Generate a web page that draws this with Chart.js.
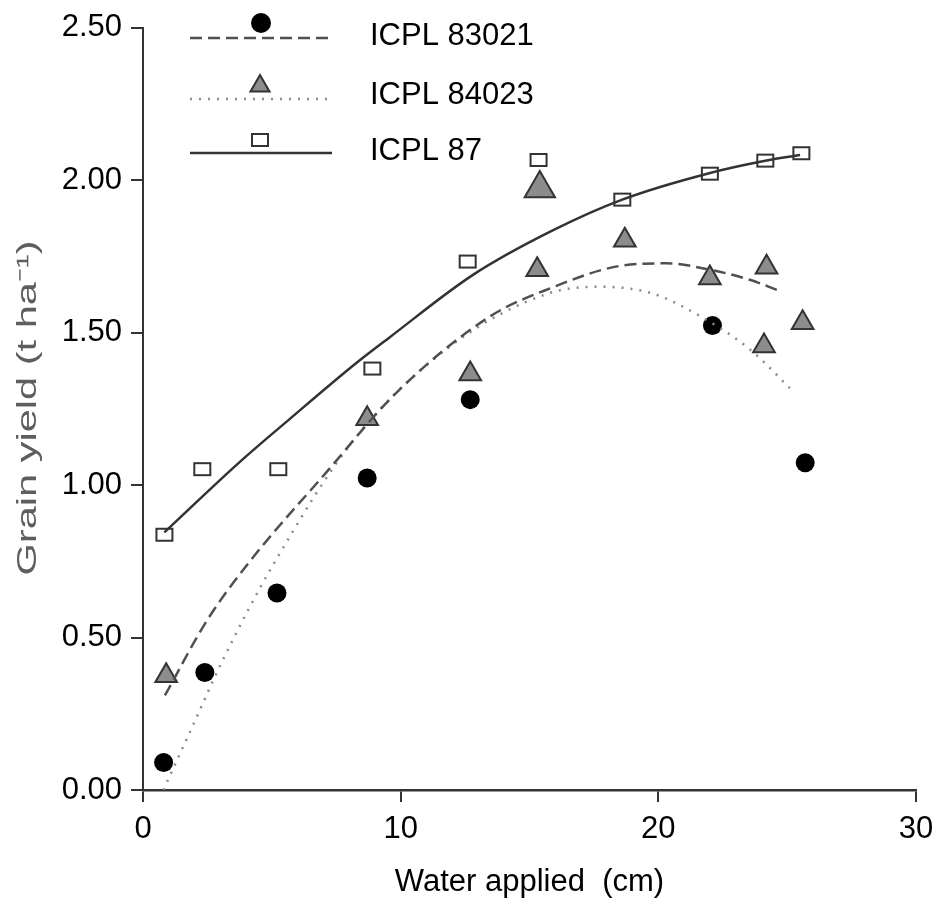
<!DOCTYPE html>
<html>
<head>
<meta charset="utf-8">
<script src="https://cdn.jsdelivr.net/npm/chart.js@4.4.1/dist/chart.umd.min.js"></script>
<style>
  body { margin: 0; background: #fff; }
  canvas { display: block; }
</style>
</head>
<body>
<canvas id="myChart" width="938" height="901"></canvas>
<script>
// observed points (water applied, cm / grain yield, t/ha)
var water83021 = [0.8, 2.4, 5.2, 8.7, 12.7, 22.1, 25.7];
var yield83021 = [0.09, 0.385, 0.646, 1.023, 1.28, 1.523, 1.073];
var water84023 = [0.9, 8.7, 12.7, 15.3, 15.4, 18.7, 22.0, 24.1, 24.2, 25.6];
var yield84023 = [0.375, 1.217, 1.364, 1.706, 1.972, 1.803, 1.679, 1.456, 1.714, 1.532];
var water87 = [0.83, 2.3, 5.25, 8.9, 12.6, 15.35, 18.6, 22.0, 24.15, 25.55];
var yield87 = [0.837, 1.052, 1.052, 1.382, 1.733, 2.066, 1.936, 2.021, 2.064, 2.088];

// fitted curves
var fitX83021 = [0.85, 2.47, 4.15, 7.13, 9.8, 13.47, 15.8, 18.4, 20.3, 22.0, 23.55, 24.6];
var fitY83021 = [0.31, 0.554, 0.75, 1.043, 1.3, 1.553, 1.645, 1.717, 1.727, 1.706, 1.673, 1.64];
var fitX84023 = [0.79, 1.82, 3.12, 5.06, 8.2, 12.0, 15.8, 17.7, 19.7, 21.6, 23.55, 25.2];
var fitY84023 = [0.0, 0.19, 0.43, 0.74, 1.15, 1.46, 1.63, 1.65, 1.63, 1.555, 1.445, 1.31];
var fitX87 = [0.83, 3.76, 5.7, 8.29, 9.58, 12.82, 15.9, 18.6, 21.9, 24.2, 25.5];
var fitY87 = [0.845, 1.076, 1.217, 1.401, 1.485, 1.69, 1.835, 1.936, 2.021, 2.064, 2.082];

var xTicks = [0, 10, 20, 30];
var yTicks = [0, 0.5, 1.0, 1.5, 2.0, 2.5];
var seriesNames = ["ICPL 83021", "ICPL 84023", "ICPL 87"];

var bigTriangle = 4; // drawn larger in the original

function pairs(xs, ys) {
  return xs.map((x, i) => ({ x: x, y: ys[i] }));
}

// open rectangle marker (wider than tall)
var squareMark = document.createElement("canvas");
squareMark.width = 20;
squareMark.height = 16;
(function () {
  var c = squareMark.getContext("2d");
  c.fillStyle = "#fff";
  c.fillRect(1, 1, 18, 14);
  c.strokeStyle = "#333";
  c.lineWidth = 2;
  c.strokeRect(2, 2, 16, 12);
})();

var axisColor = "#333";
var lineStyles = [
  { color: "#505050", width: 2.5, dash: [12, 6] },
  { color: "#8a8a8a", width: 2.5, dash: [2, 7] },
  { color: "#333", width: 2.5, dash: [] },
];

var legendPlugin = {
  id: "sketchLegend",
  afterDraw(chart) {
    var ctx = chart.ctx;
    var rows = [
      { lineY: 38, markY: 23, textY: 36 },
      { lineY: 99, markY: 86, textY: 95 },
      { lineY: 153, markY: 140, textY: 151 },
    ];
    ctx.save();
    rows.forEach((r, i) => {
      var st = lineStyles[i];
      ctx.beginPath();
      ctx.setLineDash(st.dash);
      ctx.strokeStyle = st.color;
      ctx.lineWidth = st.width;
      ctx.moveTo(190, r.lineY);
      ctx.lineTo(332, r.lineY);
      ctx.stroke();
      ctx.setLineDash([]);
      if (i === 0) {
        ctx.beginPath();
        ctx.fillStyle = "#000";
        ctx.arc(261, r.markY, 10, 0, Math.PI * 2);
        ctx.fill();
      } else if (i === 1) {
        var rr = 11;
        ctx.beginPath();
        ctx.moveTo(260, r.markY - rr);
        ctx.lineTo(260 + rr * 0.866, r.markY + rr / 2);
        ctx.lineTo(260 - rr * 0.866, r.markY + rr / 2);
        ctx.closePath();
        ctx.fillStyle = "#8c8c8c";
        ctx.fill();
        ctx.strokeStyle = "#333";
        ctx.lineWidth = 2;
        ctx.stroke();
      } else {
        ctx.drawImage(squareMark, 260 - 10, r.markY - 8);
      }
      ctx.fillStyle = "#000";
      ctx.font = '31px "Liberation Sans", Arial, sans-serif';
      ctx.textAlign = "left";
      ctx.textBaseline = "middle";
      ctx.fillText(seriesNames[i], 370, r.textY);
    });
    ctx.restore();
  },
};

// y title is stretched along its length in the original
var yTitlePlugin = {
  id: "yTitle",
  afterDraw(chart) {
    var ctx = chart.ctx;
    var text = "Grain yield (t ha\u207B\u00B9)";
    ctx.save();
    ctx.font = '27px "Liberation Sans", Arial, sans-serif';
    var w = ctx.measureText(text).width;
    ctx.translate(29, 408);
    ctx.rotate(-Math.PI / 2);
    ctx.scale(335 / w, 1);
    ctx.fillStyle = "#5e5e5e";
    ctx.textAlign = "center";
    ctx.textBaseline = "middle";
    ctx.fillText(text, 0, 0);
    ctx.restore();
  },
};

var tickFont = { family: '"Liberation Sans", Arial, sans-serif', size: 31 };

var ctx = document.getElementById("myChart").getContext("2d");
var grainChart = new Chart(ctx, {
  type: "scatter",
  data: {
    datasets: [
      {
        label: seriesNames[0] + " fit",
        data: pairs(fitX83021, fitY83021),
        showLine: true,
        pointRadius: 0,
        borderColor: lineStyles[0].color,
        borderWidth: lineStyles[0].width,
        borderDash: lineStyles[0].dash,
        cubicInterpolationMode: "monotone",
      },
      {
        label: seriesNames[1] + " fit",
        data: pairs(fitX84023, fitY84023),
        showLine: true,
        pointRadius: 0,
        borderColor: lineStyles[1].color,
        borderWidth: lineStyles[1].width,
        borderDash: lineStyles[1].dash,
        cubicInterpolationMode: "monotone",
      },
      {
        label: seriesNames[2] + " fit",
        data: pairs(fitX87, fitY87),
        showLine: true,
        pointRadius: 0,
        borderColor: lineStyles[2].color,
        borderWidth: lineStyles[2].width,
        cubicInterpolationMode: "monotone",
      },
      {
        label: seriesNames[0],
        data: pairs(water83021, yield83021),
        pointStyle: "circle",
        pointRadius: 9.5,
        pointBackgroundColor: "#000",
        pointBorderColor: "#000",
        pointBorderWidth: 0,
      },
      {
        label: seriesNames[1],
        data: pairs(water84023, yield84023),
        pointStyle: "triangle",
        pointRadius: (c) => (c.dataIndex === bigTriangle ? 17.5 : 12.5),
        pointBackgroundColor: "#8c8c8c",
        pointBorderColor: "#333",
        pointBorderWidth: 2,
      },
      {
        label: seriesNames[2],
        data: pairs(water87, yield87),
        pointStyle: squareMark,
        pointRadius: 10,
      },
    ],
  },
  options: {
    responsive: false,
    animation: false,
    layout: { padding: { left: 0, right: 22, top: 23, bottom: 0 } },
    plugins: {
      legend: { display: false },
      tooltip: { enabled: false },
    },
    scales: {
      x: {
        type: "linear",
        min: 0,
        max: 30,
        afterFit: (s) => {
          s.height = 111;
          s.paddingLeft = 0;
          s.paddingRight = 0;
        },
        afterBuildTicks: (s) => { s.ticks = xTicks.map((v) => ({ value: v })); },
        ticks: { font: tickFont, color: "#000", padding: 9 },
        grid: { drawOnChartArea: false, tickLength: 12, color: axisColor, lineWidth: 2 },
        border: { color: axisColor, width: 2.5 },
        title: {
          display: true,
          text: "Water applied  (cm)",
          color: "#000",
          font: { family: '"Liberation Sans", Arial, sans-serif', size: 31, lineHeight: 1 },
          padding: { top: 0, bottom: 3 },
        },
      },
      y: {
        type: "linear",
        min: 0,
        max: 2.5,
        afterFit: (s) => { s.width = 143; },
        afterBuildTicks: (s) => { s.ticks = yTicks.map((v) => ({ value: v })); },
        ticks: {
          font: tickFont,
          color: "#000",
          padding: 9,
          callback: (v) => v.toFixed(2),
        },
        grid: { drawOnChartArea: false, tickLength: 12, color: axisColor, lineWidth: 2 },
        border: { color: axisColor, width: 2 },
      },
    },
  },
  plugins: [legendPlugin, yTitlePlugin],
});
</script>
</body>
</html>
